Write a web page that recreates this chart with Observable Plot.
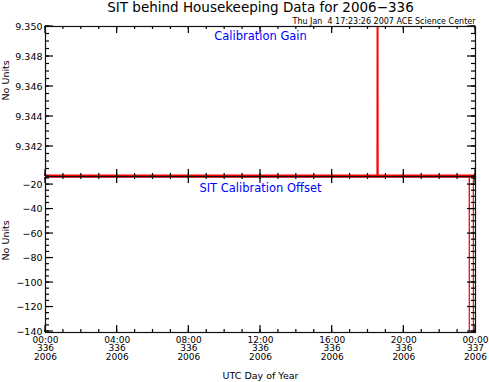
<!DOCTYPE html>
<html><head><meta charset="utf-8">
<script src="https://cdn.jsdelivr.net/npm/d3@7"></script>
<script src="https://cdn.jsdelivr.net/npm/@observablehq/plot@0.6"></script>
<style>
body{margin:0;background:#fff;}
#chart{position:relative;width:489px;height:382px;overflow:hidden;background:#fff;}
#chart svg{position:absolute;left:0;}
#chart svg text{white-space:pre;}
</style></head><body>
<div id="chart"></div>
<script>
// ---- text ----
const title = "SIT behind Housekeeping Data for 2006\u2212336";
const stamp = "Thu Jan  4 17:23:26 2007 ACE Science Center";
const xLabel = "UTC Day of Year";
const yLabel = "No Units";
const gainTitle = "Calibration Gain";
const offsetTitle = "SIT Calibration Offset";

// ---- x domain / ticks ----
const dayStart = "2006-12-02T00:00Z";
const dayEnd = "2006-12-03T00:00Z";
const xTickTimes = ["2006-12-02T00:00Z","2006-12-02T04:00Z","2006-12-02T08:00Z","2006-12-02T12:00Z","2006-12-02T16:00Z","2006-12-02T20:00Z","2006-12-03T00:00Z"];
const xTickHM = ["00:00","04:00","08:00","12:00","16:00","20:00","00:00"];
const xTickDOY = ["336","336","336","336","336","336","337"];
const xTickYear = ["2006","2006","2006","2006","2006","2006","2006"];

// ---- Calibration Gain ----
const gainDomain = [9.340, 9.350];
const gainTicks = [9.342, 9.344, 9.346, 9.348, 9.350];
const gainTickLabels = ["9.342","9.344","9.346","9.348","9.350"];
const gainTimes = ["2006-12-02T00:00Z","2006-12-02T18:31Z","2006-12-02T18:32Z","2006-12-02T18:33Z","2006-12-02T23:59Z"];
const gainValues = [9.34007, 9.34007, 9.36, 9.34007, 9.34007];

// ---- SIT Calibration Offset ----
const offsetDomain = [-140.8, -13.4];
const offsetTicks = [-140, -120, -100, -80, -60, -40, -20];
const offsetTickLabels = ["\u2212140","\u2212120","\u2212100","\u221280","\u221260","\u221240","\u221220"];
const offsetTimes = ["2006-12-02T00:00:00Z","2006-12-02T23:39:00Z","2006-12-02T23:39:15Z","2006-12-02T23:39:30Z","2006-12-02T23:52:45Z","2006-12-02T23:53:00Z","2006-12-02T23:59:00Z"];
const offsetValues = [-14, -14, -160, -14, -14, -160, -160];

// ---- build ----
const FONT = "'DejaVu Sans', 'Liberation Sans', sans-serif";
const FRAME_W = 430;
const xDomain = [new Date(dayStart), new Date(dayEnd)];
const xTicks = xTickTimes.map(s => new Date(s));
const xMinor = d3.utcHour.range(xDomain[0], new Date(+xDomain[1] + 1));
const gainMinor = d3.range(9.3400, 9.35001, 0.0005);
const offsetMinor = d3.range(-140, -13, 5);

const gainData = gainTimes.map((t, i) => ({t: new Date(t), v: gainValues[i]}));
const offsetData = offsetTimes.map((t, i) => ({t: new Date(t), v: offsetValues[i]}));

function xFmt(d) {
  const i = xTicks.findIndex(t => +t === +d);
  return [xTickHM[i], xTickDOY[i], xTickYear[i]].join("\n");
}

// IDL-style inward ticks on all four sides (thin filled rects spanning a few pixels)
function tickMarks(yTicks, yMinor, frameH) {
  const h = {fill: "black", insetTop: -0.6, insetBottom: -0.6};
  const v = {fill: "black", insetLeft: -0.6, insetRight: -0.6};
  const yr = d => d;
  return [
    Plot.rect(yTicks, {...h, y1: yr, y2: yr, insetRight: FRAME_W - 8}),
    Plot.rect(yMinor, {...h, y1: yr, y2: yr, insetRight: FRAME_W - 4}),
    Plot.rect(yTicks, {...h, y1: yr, y2: yr, insetLeft: FRAME_W - 8}),
    Plot.rect(yMinor, {...h, y1: yr, y2: yr, insetLeft: FRAME_W - 4}),
    Plot.rect(xTicks, {...v, x1: yr, x2: yr, insetBottom: frameH - 7}),
    Plot.rect(xMinor, {...v, x1: yr, x2: yr, insetBottom: frameH - 3}),
    Plot.rect(xTicks, {...v, x1: yr, x2: yr, insetTop: frameH - 7}),
    Plot.rect(xMinor, {...v, x1: yr, x2: yr, insetTop: frameH - 3}),
    Plot.frame({stroke: "#111", strokeWidth: 1.2})
  ];
}

const plotStyle = {fontFamily: FONT, background: "white", color: "black", overflow: "visible"};

const gainPlot = Plot.plot({
  width: 489, height: 177,
  marginTop: 26, marginBottom: 1, marginLeft: 45, marginRight: 14,
  style: plotStyle,
  x: {type: "utc", domain: xDomain, axis: null},
  y: {domain: gainDomain},
  marks: [
    Plot.line(gainData, {x: "t", y: "v", stroke: "red", strokeWidth: 1.7, clip: true}),
    ...tickMarks(gainTicks, gainMinor, 150),
    Plot.axisY({anchor: "left", label: null, ticks: gainTicks, tickSize: 0, tickPadding: 3, fontSize: 9.5, tickFormat: d => gainTickLabels[gainTicks.indexOf(d)]}),
    Plot.text([title], {frameAnchor: "top", dy: -15, lineAnchor: "bottom", fontSize: 13.5, fill: "black"}),
    Plot.text([stamp], {frameAnchor: "top-right", textAnchor: "end", dy: -3, lineAnchor: "bottom", fontSize: 8, fill: "black"}),
    Plot.text([gainTitle], {frameAnchor: "top", dy: 13, lineAnchor: "bottom", fontSize: 11.5, fill: "blue"}),
    Plot.text([yLabel], {frameAnchor: "left", rotate: -90, dx: -40, dy: -1, fontSize: 9.5, fill: "black"})
  ]
});

const offsetPlot = Plot.plot({
  width: 489, height: 207,
  marginTop: 1, marginBottom: 50, marginLeft: 45, marginRight: 14,
  style: plotStyle,
  x: {type: "utc", domain: xDomain},
  y: {domain: offsetDomain},
  marks: [
    Plot.line(offsetData, {x: "t", y: "v", stroke: "red", strokeWidth: 1.2, clip: true}),
    ...tickMarks(offsetTicks, offsetMinor, 156),
    Plot.axisY({anchor: "left", label: null, ticks: offsetTicks, tickSize: 0, tickPadding: 3, fontSize: 9.5, tickFormat: d => offsetTickLabels[offsetTicks.indexOf(d)]}),
    Plot.axisX({anchor: "bottom", label: null, ticks: xTicks, tickSize: 0, tickPadding: 4, fontSize: 9, lineHeight: 0.95, tickFormat: xFmt}),
    Plot.text([offsetTitle], {frameAnchor: "top", dy: 15, lineAnchor: "bottom", fontSize: 11.5, fill: "blue"}),
    Plot.text([yLabel], {frameAnchor: "left", rotate: -90, dx: -40, dy: 6, fontSize: 9.5, fill: "black"}),
    Plot.text([xLabel], {frameAnchor: "bottom", dy: 46, lineAnchor: "bottom", fontSize: 9.5, fill: "black"})
  ]
});

const chart = document.getElementById("chart");
offsetPlot.style.top = "175px";
gainPlot.style.top = "0px";
chart.appendChild(offsetPlot);
chart.appendChild(gainPlot);
</script>
</body></html>
